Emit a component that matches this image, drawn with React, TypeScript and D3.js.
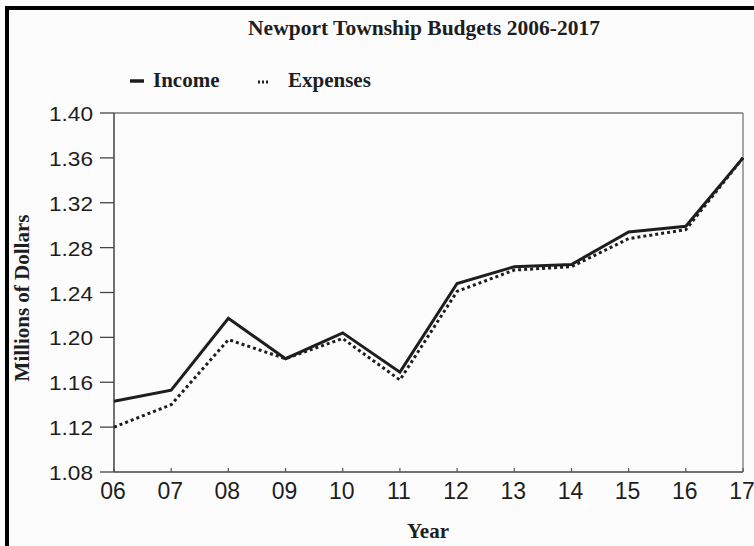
import React from "react";
import * as d3 from "d3";

const years = ["06", "07", "08", "09", "10", "11", "12", "13", "14", "15", "16", "17"];
const income = [1.143, 1.153, 1.217, 1.181, 1.204, 1.169, 1.248, 1.263, 1.265, 1.294, 1.299, 1.36];
const expenses = [1.12, 1.14, 1.198, 1.181, 1.199, 1.162, 1.241, 1.26, 1.263, 1.288, 1.296, 1.36];
const yTicks = [1.08, 1.12, 1.16, 1.2, 1.24, 1.28, 1.32, 1.36, 1.4];

const W = 754;
const H = 546;
const L = 114, R = 743, T = 113, B = 472;

export default function App() {
  const x = d3.scalePoint<string>().domain(years).range([L, R]);
  const y = d3.scaleLinear().domain([1.08, 1.4]).range([B, T]);
  const line = d3
    .line<number>()
    .x((_, i) => x(years[i]) as number)
    .y((d) => y(d));
  const serif = "'Liberation Serif', 'Times New Roman', serif";
  const sans = "'Liberation Sans', Arial, sans-serif";
  const axisColor = "#777";
  const ink = "#1e1e1e";
  return (
    <div style={{ position: "absolute", left: 0, top: 0 }}>
      <svg width={W} height={H} style={{ display: "block", background: "#fff" }}>
        <rect x={0} y={0} width={W} height={H} fill="#fcfcfc" />
        {/* frame border */}
        <rect x={5} y={6} width={W - 5} height={4} fill="#000" />
        <rect x={5} y={6} width={4} height={H - 6} fill="#000" />

        <text x={424} y={35} textAnchor="middle" fontFamily={serif} fontWeight="bold" fontSize={21.5} fill={ink}>
          Newport Township Budgets 2006-2017
        </text>

        {/* legend */}
        <line x1={130} x2={144} y1={81} y2={81} stroke={ink} strokeWidth={3.5} />
        <text x={153} y={87} fontFamily={serif} fontWeight="bold" fontSize={21} fill={ink}>Income</text>
        <line x1={258} x2={268} y1={82} y2={82} stroke={ink} strokeWidth={3} strokeDasharray="2,2" />
        <text x={288} y={87} fontFamily={serif} fontWeight="bold" fontSize={21} fill={ink}>Expenses</text>

        {/* plot frame */}
        <line x1={L} x2={R} y1={T} y2={T} stroke={axisColor} strokeWidth={1.3} />
        <line x1={R} x2={R} y1={T} y2={B} stroke={axisColor} strokeWidth={1.3} />
        <line x1={L} x2={L} y1={T} y2={B} stroke="#444" strokeWidth={1.5} />
        <line x1={L} x2={R} y1={B} y2={B} stroke="#444" strokeWidth={1.5} />

        {yTicks.map((t) => (
          <g key={t}>
            <line x1={L - 14} x2={L} y1={y(t)} y2={y(t)} stroke="#444" strokeWidth={1.3} />
            <text x={93} y={y(t) + 8} textAnchor="end" fontFamily={sans} fontSize={20} fill={ink}
              textLength={44} lengthAdjust="spacingAndGlyphs">
              {t.toFixed(2)}
            </text>
          </g>
        ))}
        {years.map((yr) => (
          <g key={yr}>
            <line x1={x(yr)} x2={x(yr)} y1={B} y2={B - 4} stroke="#555" strokeWidth={1.2} />
            <text x={(x(yr) as number) - 1} y={499} textAnchor="middle" fontFamily={sans} fontSize={23} fill={ink}>
              {yr}
            </text>
          </g>
        ))}

        <text transform={`translate(29,298) rotate(-90)`} textAnchor="middle" fontFamily={serif} fontWeight="bold" fontSize={21} fill={ink}>
          Millions of Dollars
        </text>
        <text x={428} y={538} textAnchor="middle" fontFamily={serif} fontWeight="bold" fontSize={21} fill={ink}>
          Year
        </text>

        <path d={line(expenses) || ""} fill="none" stroke={ink} strokeWidth={3} strokeDasharray="3,3" />
        <path d={line(income) || ""} fill="none" stroke={ink} strokeWidth={3} strokeLinejoin="miter" />
      </svg>
    </div>
  );
}
